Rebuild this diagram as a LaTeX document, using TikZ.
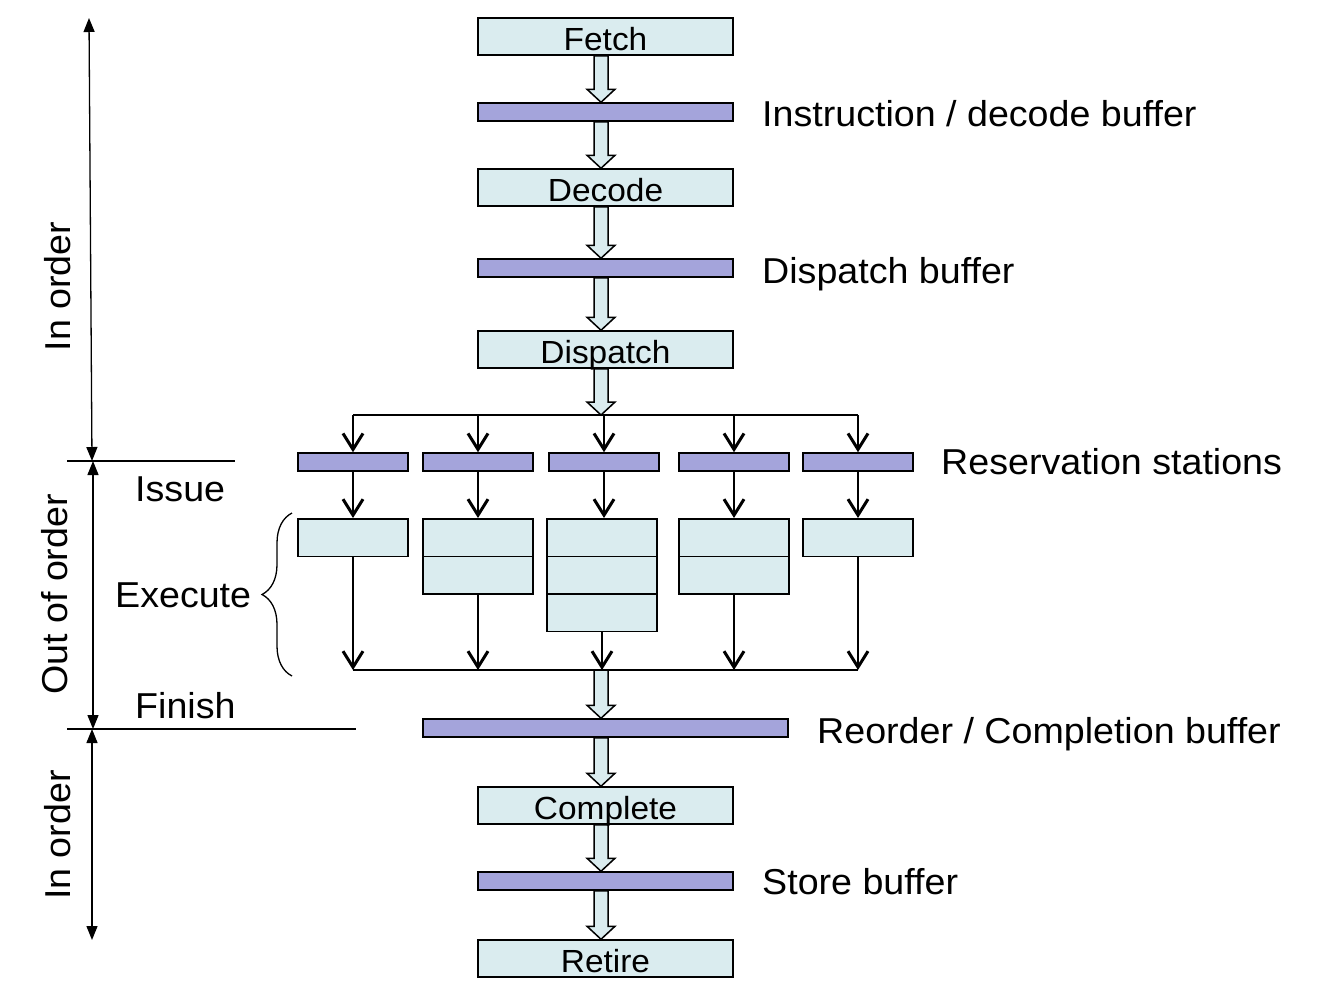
\documentclass[tikz,border=0pt]{standalone}
\usepackage{fontspec}
\setmainfont[FakeStretch=1.045]{Liberation Sans}
\usetikzlibrary{arrows.meta,calc,decorations.pathreplacing}
\definecolor{lblue}{RGB}{218,236,239}
\definecolor{bpurple}{RGB}{164,164,219}
\pgfdeclarelayer{background}
\pgfsetlayers{background,main}
\newcommand{\blockarr}[2]{%
  \draw[blockarrow] let \p1=(#1), \p2=(#2) in
    (\x1-7,\y1) -- (\x1+7,\y1) -- (\x1+7,\y2+13) -- (\x1+14,\y2+13) -- (\x1,\y2)
    -- (\x1-14,\y2+13) -- (\x1-7,\y2+13) -- cycle;}
\begin{document}
\begin{tikzpicture}[x=1pt,y=1pt,
  stage/.style={draw, line width=1.5pt, fill=lblue, minimum width=255pt, minimum height=37pt,
    inner sep=0pt, text height=27pt, text depth=0pt, font=\fontsize{32}{38}\selectfont},
  buf/.style={draw, line width=1.5pt, fill=bpurple, minimum height=18pt, inner sep=0pt},
  exbox/.style={draw, line width=1.5pt, fill=lblue, minimum width=110pt, minimum height=37.5pt, inner sep=0pt},
  lbl/.style={inner sep=0pt, text height=26pt, text depth=0pt, font=\fontsize{36}{43}\selectfont},
  blockarrow/.style={draw, line width=1.5pt, fill=lblue, line join=miter},
  thinarrow/.style={line width=1.5pt, -{Straight Barb[length=16pt,width=20pt,line width=3pt]}},
  joinline/.style={line width=1.5pt},
  dbl/.style={line width=1.3pt, {Triangle[length=14pt,width=11pt]}-{Triangle[length=14pt,width=11pt]}},
  sepline/.style={line width=1.3pt}
]
\useasboundingbox (0,0) rectangle (1317,-994);

% pipeline stages and buffers
\node[stage] (fetch) at (605.5,-36.5) {Fetch};
\node[buf, minimum width=255pt] (ibuf) at (605.5,-112) {};
\node[stage] (decode) at (605.5,-187.5) {Decode};
\node[buf, minimum width=255pt] (dbuf) at (605.5,-268) {};
\node[stage] (dispatch) at (605.5,-349.5) {Dispatch};

\node[buf, minimum width=110pt] (rs1) at (353,-462) {};
\node[buf, minimum width=110pt] (rs2) at (478,-462) {};
\node[buf, minimum width=110pt] (rs3) at (604,-462) {};
\node[buf, minimum width=110pt] (rs4) at (734,-462) {};
\node[buf, minimum width=110pt] (rs5) at (858,-462) {};

\node[exbox] (ex1) at (353,-537.5) {};
\node[exbox] (ex2a) at (478,-537.5) {};
\node[exbox] (ex2b) at (478,-575) {};
\node[exbox] (ex3a) at (602,-537.5) {};
\node[exbox] (ex3b) at (602,-575) {};
\node[exbox] (ex3c) at (602,-612.5) {};
\node[exbox] (ex4a) at (734,-537.5) {};
\node[exbox] (ex4b) at (734,-575) {};
\node[exbox] (ex5) at (858,-537.5) {};

\node[buf, minimum width=365pt] (rob) at (605.5,-728) {};
\node[stage] (complete) at (605.5,-805.5) {Complete};
\node[buf, minimum width=255pt] (sbuf) at (605.5,-881) {};
\node[stage] (retire) at (605.5,-958.5) {Retire};

% helper coordinates
\coordinate (ax) at (601,0);
\coordinate (fork) at (0,-415);
\coordinate (mrg) at (0,-670);

% block arrows (behind text)
\begin{pgfonlayer}{background}
\blockarr{fetch.south -| ax}{ibuf.north -| ax}
\blockarr{ibuf.south -| ax}{decode.north -| ax}
\blockarr{decode.south -| ax}{dbuf.north -| ax}
\blockarr{dbuf.south -| ax}{dispatch.north -| ax}
\blockarr{dispatch.south -| ax}{ax |- fork}
\blockarr{ax |- mrg}{rob.north -| ax}
\blockarr{rob.south -| ax}{complete.north -| ax}
\blockarr{complete.south -| ax}{sbuf.north -| ax}
\blockarr{sbuf.south -| ax}{retire.north -| ax}
\end{pgfonlayer}

% fork to reservation stations
\draw[joinline] (rs1.north |- fork) -- (rs5.north |- fork);
\foreach \i in {1,...,5}{
  \draw[thinarrow] (rs\i.north |- fork) -- (rs\i.north);
}
% reservation stations to execute units
\draw[thinarrow] (rs1.south) -- (ex1.north);
\draw[thinarrow] (rs2.south) -- (ex2a.north);
\draw[thinarrow] (rs3.south) -- (rs3.south |- ex3a.north);
\draw[thinarrow] (rs4.south) -- (ex4a.north);
\draw[thinarrow] (rs5.south) -- (ex5.north);
% execute units to merge line
\draw[joinline] (ex1.south |- mrg) -- (ex5.south |- mrg);
\draw[thinarrow] (ex1.south) -- (ex1.south |- mrg);
\draw[thinarrow] (ex2b.south) -- (ex2b.south |- mrg);
\draw[thinarrow] (ex3c.south) -- (ex3c.south |- mrg);
\draw[thinarrow] (ex4b.south) -- (ex4b.south |- mrg);
\draw[thinarrow] (ex5.south) -- (ex5.south |- mrg);

% right-hand labels
\node[lbl, anchor=west] (lib) at (762,-113) {Instruction / decode buffer};
\node[lbl, anchor=west] (ldb) at (762,-270) {Dispatch buffer};
\node[lbl, anchor=west] (lrs) at (941,-461) {Reservation stations};
\node[lbl, anchor=west] (lrob) at (817,-730) {Reorder / Completion buffer};
\node[lbl, anchor=west] (lsb) at (762,-881) {Store buffer};

% left-hand annotations
\node[lbl, anchor=west] (issue) at (135,-488) {Issue};
\node[lbl, anchor=west] (exec) at (115,-594) {Execute};
\node[lbl, anchor=west] (finish) at (135,-705) {Finish};
\draw[line width=1.3pt, decorate, decoration={brace, amplitude=30pt, aspect=0.5}]
  (292,-676) -- (292,-513);

\coordinate (a1t) at (89,-18);
\coordinate (a1b) at (92,-461);
\coordinate (a2t) at (93,-461);
\coordinate (a2b) at (93,-729);
\coordinate (a3t) at (92,-729);
\coordinate (a3b) at (92,-940);
\draw[dbl] (a1t) -- (a1b);
\draw[dbl] (a2t) -- (a2b);
\draw[dbl] (a3t) -- (a3b);

\coordinate (s1l) at (67,-461);
\coordinate (s1r) at (235,-461);
\coordinate (s2l) at (67,-729);
\coordinate (s2r) at (356,-729);
\draw[sepline] (s1l) -- (s1r);
\draw[sepline] (s2l) -- (s2r);

\node[lbl, rotate=90] (io1) at (57.5,-286.5) {In order};
\node[lbl, rotate=90] (ooo) at (54,-594.5) {Out of order};
\node[lbl, rotate=90] (io2) at (57.5,-835) {In order};
\end{tikzpicture}
\end{document}
